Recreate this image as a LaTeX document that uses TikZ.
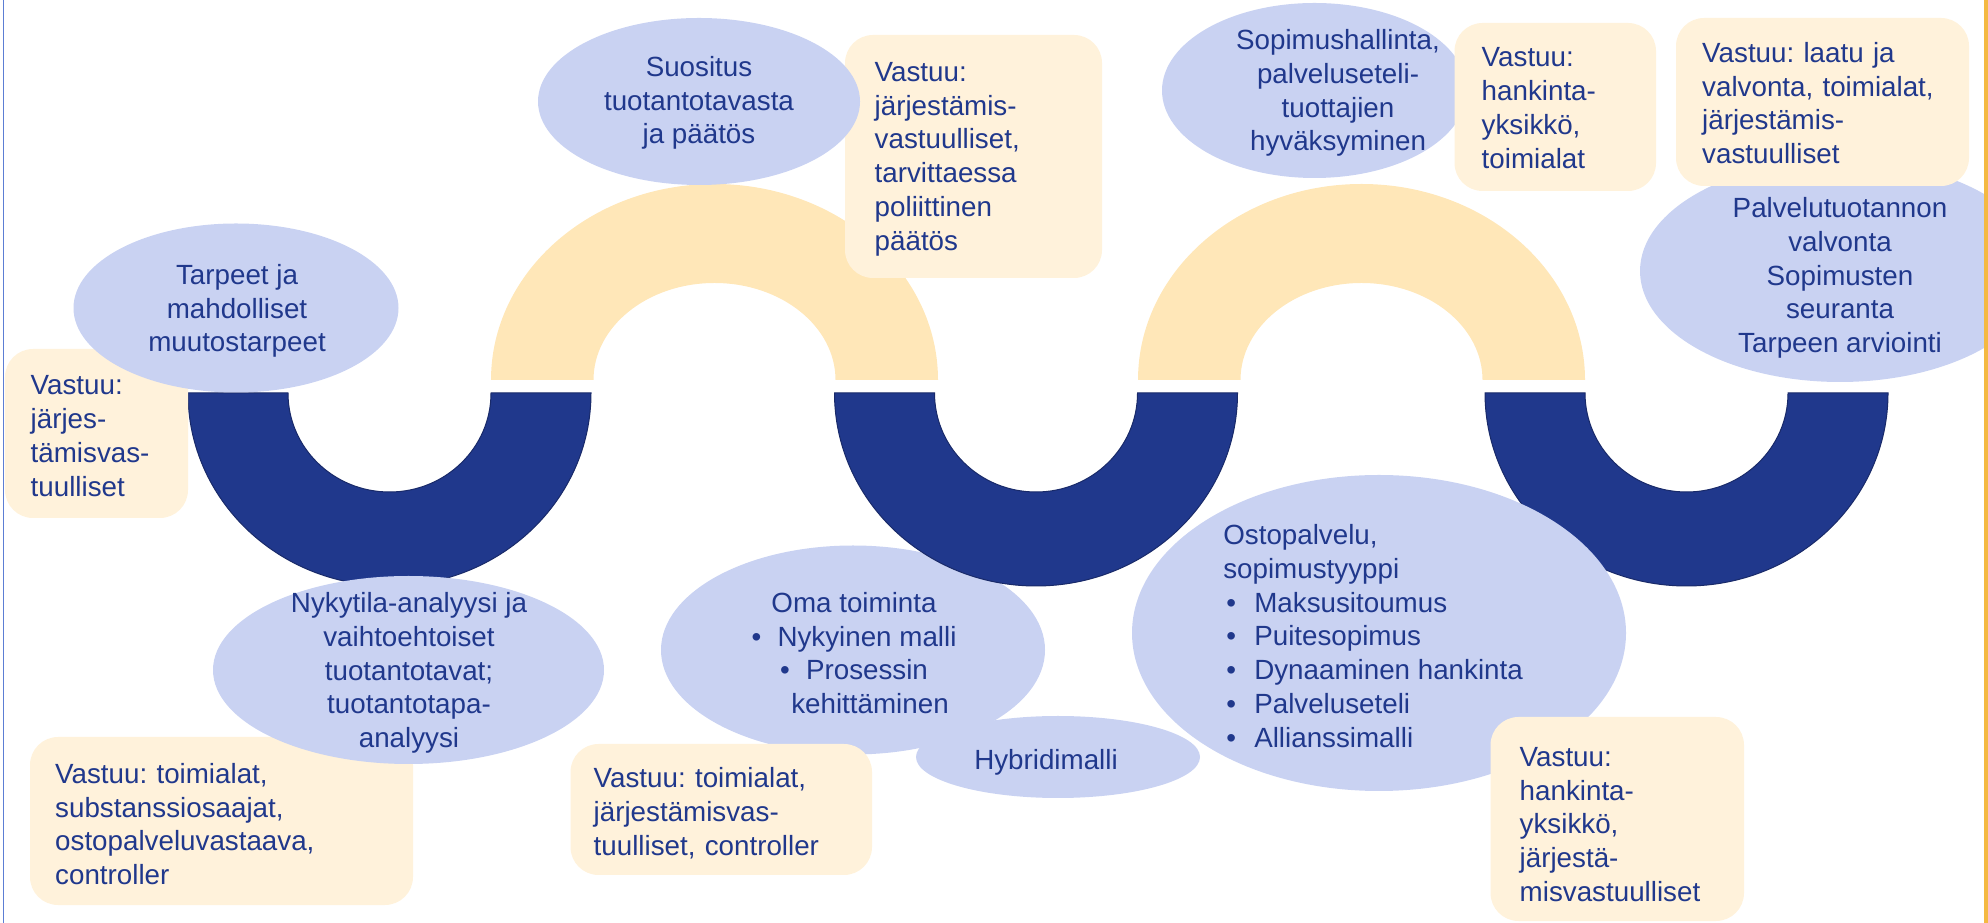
\documentclass[tikz,border=0pt]{standalone}
\usepackage{fontspec}
\setmainfont{Liberation Sans}

\definecolor{navy}{RGB}{32,56,140}
\definecolor{navyedge}{RGB}{25,42,105}
\definecolor{archyellow}{RGB}{255,231,184}
\definecolor{boxcream}{RGB}{255,242,219}
\definecolor{bubbleblue}{RGB}{201,210,242}
\definecolor{edgeorange}{RGB}{244,185,66}
\definecolor{edgeblue}{RGB}{92,126,212}

\newcommand{\pallo}{\makebox[3.1mm][l]{\hspace{0.3mm}\textbullet}}
\newcommand{\pallob}{\makebox[2.6mm][l]{\textbullet}}

\begin{document}
\frenchspacing
\begin{tikzpicture}[scale=0.1]
\tikzstyle{every node}+=[inner sep=0pt, text=navy, font=\fontsize{7.9}{9.6}\selectfont]
\tikzstyle{bubbletext}=[align=center]
\tikzstyle{vtext}=[anchor=west, align=left]
\tikzstyle{ringfill}=[fill=navy, draw=navyedge, line width=0.1mm]
\tikzstyle{archfill}=[fill=archyellow]
\tikzstyle{bubblefill}=[fill=bubbleblue]
\tikzstyle{boxfill}=[fill=boxcream, rounded corners=2.8mm]
\useasboundingbox (0,0) rectangle (198.8,-92.3);
\clip (0,0) rectangle (198.8,-92.3);
% oma toiminta ja hybridi
\fill [bubblefill] (85.3,-65.0) ellipse (19.2 and 10.45);
\node [bubbletext] (oma) at (85.4,-65.3) {Oma toiminta\\ \pallob Nykyinen malli\\ \pallob Prosessin\\ \hspace*{3.2mm}kehittäminen};
\fill [bubblefill] (105.8,-75.7) ellipse (14.2 and 4.1);
\node [bubbletext] (hybridi) at (104.6,-76.2) {Hybridimalli};
\fill [boxfill] (57.05,-74.4) rectangle (87.2,-87.5);
\node [vtext, text width=27.4mm] (v_oma) at (59.3,-81.3) {Vastuu: toimialat,\\ järjestämisvas-\\ tuulliset, controller};
% kaaret
\fill [archfill] (49.1,-38.0) arc (180:0:22.35 and 19.6) -- (83.55,-38.0) arc (0:180:12.1 and 9.7) -- cycle;
\fill [archfill] (113.8,-38.0) arc (180:0:22.35 and 19.6) -- (148.25,-38.0) arc (0:180:12.1 and 9.7) -- cycle;
\filldraw [ringfill] (18.8,-39.3) arc (180:360:20.15 and 19.3) -- (49.1,-39.3) arc (0:-180:10.15 and 9.9) -- cycle;
\filldraw [ringfill] (83.45,-39.3) arc (180:360:20.15 and 19.3) -- (113.75,-39.3) arc (0:-180:10.15 and 9.9) -- cycle;
\filldraw [ringfill] (148.5,-39.3) arc (180:360:20.15 and 19.3) -- (178.8,-39.3) arc (0:-180:10.15 and 9.9) -- cycle;
% vasen reuna
\fill [boxfill] (0.5,-34.9) rectangle (18.8,-51.8);
\node [vtext, text width=15.3mm] (v_tarpeet) at (3.0,-43.6) {Vastuu:\\ järjes-\\ tämisvas-\\ tuulliset};
\fill [bubblefill] (23.6,-30.8) ellipse (16.25 and 8.45);
\node [bubbletext] (tarpeet) at (23.7,-31.1) {Tarpeet ja\\ mahdolliset\\ muutostarpeet};
\fill [boxfill] (3.0,-73.7) rectangle (41.3,-90.5);
\node [vtext, text width=34.8mm] (v_nykytila) at (5.45,-82.4) {Vastuu: toimialat,\\ substanssiosaajat,\\ ostopalveluvastaava,\\ controller};
\fill [bubblefill] (40.85,-67.0) ellipse (19.55 and 9.4);
\node [bubbletext] (nykytila) at (40.9,-67.3) {Nykytila-analyysi ja\\ vaihtoehtoiset\\ tuotantotavat;\\ tuotantotapa-\\ analyysi};
% ostopalvelu
\fill [bubblefill] (137.9,-63.3) ellipse (24.7 and 15.8);
\node [vtext] (ostopalvelu) at (122.26,-63.6) {Ostopalvelu,\\ sopimustyyppi\\ \pallo Maksusitoumus\\ \pallo Puitesopimus\\ \pallo Dynaaminen hankinta\\ \pallo Palveluseteli\\ \pallo Allianssimalli};
\fill [boxfill] (149.05,-71.7) rectangle (174.4,-92.1);
\node [vtext, text width=22.0mm] (v_ostopalvelu) at (151.9,-82.45) {Vastuu:\\ hankinta-\\ yksikkö,\\ järjestä-\\ misvastuulliset};
% ylarivi
\fill [boxfill] (84.5,-3.5) rectangle (110.2,-27.8);
\node [vtext, text width=21.8mm] (v_suositus) at (87.4,-15.9) {Vastuu:\\ järjestämis-\\ vastuulliset,\\ tarvittaessa\\ poliittinen\\ päätös};
\fill [bubblefill] (69.9,-10.15) ellipse (16.1 and 8.35);
\node [bubbletext] (suositus) at (69.9,-10.3) {Suositus\\ tuotantotavasta\\ ja päätös};
\fill [bubblefill] (131.45,-9.05) ellipse (15.25 and 8.75);
\node [bubbletext] (sopimus) at (133.8,-9.3) {Sopimushallinta,\\ palveluseteli-\\ tuottajien\\ hyväksyminen};
\fill [boxfill] (145.45,-2.3) rectangle (165.6,-19.1);
\node [vtext, text width=17.0mm] (v_sopimus) at (148.1,-10.8) {Vastuu:\\ hankinta-\\ yksikkö,\\ toimialat};
\fill [bubblefill] (184.0,-27.1) ellipse (20.0 and 11.1);
\node [bubbletext] (valvonta) at (184.0,-27.8) {Palvelutuotannon\\ valvonta\\ Sopimusten\\ seuranta\\ Tarpeen arviointi};
\fill [boxfill] (167.6,-1.8) rectangle (196.9,-18.6);
\node [vtext, text width=26.2mm] (v_valvonta) at (170.15,-10.3) {Vastuu: laatu ja\\ valvonta, toimialat,\\ järjestämis-\\ vastuulliset};
% reunaviivat
\draw [edgeblue, line width=0.15mm] (0.35,0) -- (0.35,-92.3);
\fill [edgeorange] (198.4,0) rectangle (198.8,-92.3);
\end{tikzpicture}
\end{document}
